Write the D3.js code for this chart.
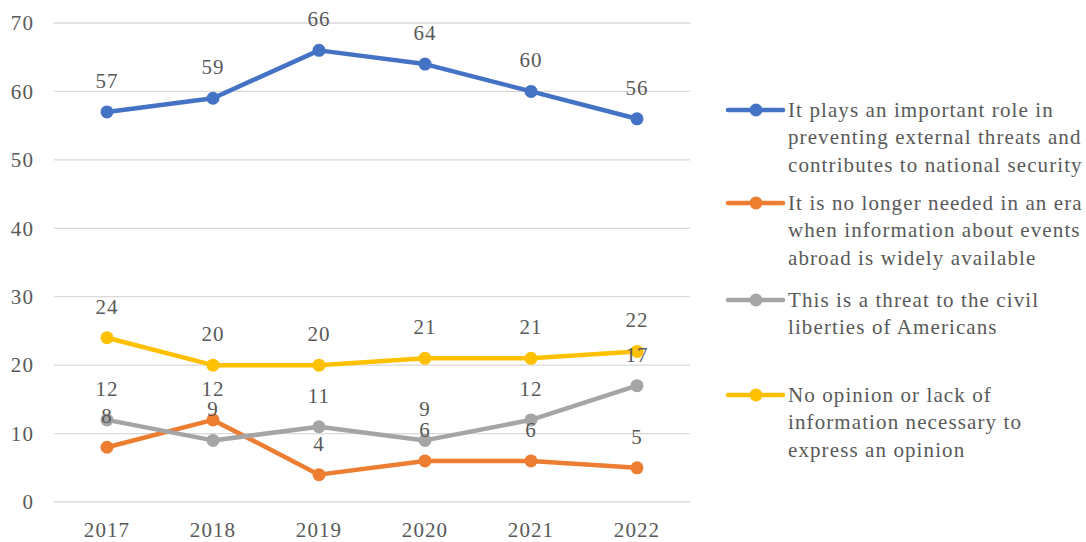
<!DOCTYPE html>
<html lang="en">
<head>
    <meta charset="UTF-8">
    <title>Survey trend</title>
    <script src="https://d3js.org/d3.v7.min.js"></script>
    <style>
        body { margin: 0; background: #fff; }
        svg text { font-family: "Liberation Serif", "Times New Roman", serif; fill: #595959; letter-spacing: 1.1px; }
    </style>
</head>
<body>
    <div id="chart"></div>

    <script>
        // Chart data
        const years = ["2017", "2018", "2019", "2020", "2021", "2022"];
        const seriesNames = [
            ["It plays an important role in", "preventing external threats and", "contributes to national security"],
            ["It is no longer needed in an era", "when information about events", "abroad is widely available"],
            ["This is a threat to the civil", "liberties of Americans"],
            ["No opinion or lack of", "information necessary to", "express an opinion"]
        ];
        const importantRole = [57, 59, 66, 64, 60, 56];
        const noLongerNeeded = [8, 12, 4, 6, 6, 5];
        const civilLiberties = [12, 9, 11, 9, 12, 17];
        const noOpinion = [24, 20, 20, 21, 21, 22];
        const yTicks = [0, 10, 20, 30, 40, 50, 60, 70];
        const colors = ["#4472C4", "#ED7D31", "#A5A5A5", "#FFC000"];

        const allSeries = [importantRole, noLongerNeeded, civilLiberties, noOpinion];

        const width = 1086, height = 542;
        const plot = { left: 54, right: 690, top: 23, bottom: 502 };
        const fontSize = "21px";

        const svg = d3.select("#chart")
            .append("svg")
            .attr("width", width)
            .attr("height", height);

        const xScale = d3.scaleBand()
            .domain(years)
            .range([plot.left, plot.right]);

        const yScale = d3.scaleLinear()
            .domain([0, 70])
            .range([plot.bottom, plot.top]);

        const xPos = d => xScale(d) + xScale.bandwidth() / 2;

        // Gridlines
        svg.append("g")
            .selectAll("line")
            .data(yTicks)
            .enter()
            .append("line")
            .attr("x1", plot.left)
            .attr("x2", plot.right)
            .attr("y1", d => yScale(d))
            .attr("y2", d => yScale(d))
            .attr("stroke", "#D9D9D9")
            .attr("stroke-width", 1.3);

        // Y axis labels
        const yAxis = svg.append("g")
            .attr("transform", "translate(" + (plot.left - 20) + ",0)")
            .call(d3.axisLeft(yScale).tickValues(yTicks).tickSize(0).tickPadding(0));
        yAxis.select(".domain").remove();
        yAxis.selectAll("text")
            .style("font-size", fontSize)
            .style("font-family", "Liberation Serif, serif")
            .attr("fill", "#595959");

        // X axis labels
        const xAxis = svg.append("g")
            .attr("transform", "translate(0," + plot.bottom + ")")
            .call(d3.axisBottom(xScale).tickSize(0).tickPadding(20));
        xAxis.select(".domain").remove();
        xAxis.selectAll("text")
            .style("font-size", fontSize)
            .style("font-family", "Liberation Serif, serif")
            .attr("fill", "#595959");

        const line = d3.line()
            .x((d, i) => xPos(years[i]))
            .y(d => yScale(d));

        // Lines and markers
        allSeries.forEach(function(values, s) {
            const g = svg.append("g");
            g.append("path")
                .datum(values)
                .attr("d", line)
                .attr("fill", "none")
                .attr("stroke", colors[s])
                .attr("stroke-width", 4.5)
                .attr("stroke-linejoin", "round");
            g.selectAll("circle")
                .data(values)
                .enter()
                .append("circle")
                .attr("cx", (d, i) => xPos(years[i]))
                .attr("cy", d => yScale(d))
                .attr("r", 6.5)
                .attr("fill", colors[s]);
        });

        // Data labels (drawn after all lines so they sit on top)
        allSeries.forEach(function(values) {
            svg.append("g")
                .selectAll("text")
                .data(values)
                .enter()
                .append("text")
                .attr("x", (d, i) => xPos(years[i]))
                .attr("y", d => yScale(d) - 24)
                .attr("text-anchor", "middle")
                .style("font-size", fontSize)
                .text(d => d);
        });

        // Legend
        const legendTops = [110, 203, 300, 395];
        seriesNames.forEach(function(lines, s) {
            const g = svg.append("g")
                .attr("transform", "translate(728," + legendTops[s] + ")");
            g.append("line")
                .attr("x1", 0)
                .attr("x2", 55)
                .attr("y1", 0)
                .attr("y2", 0)
                .attr("stroke", colors[s])
                .attr("stroke-width", 4.5)
                .attr("stroke-linecap", "round");
            g.append("circle")
                .attr("cx", 28)
                .attr("cy", 0)
                .attr("r", 6.5)
                .attr("fill", colors[s]);
            g.selectAll("text")
                .data(lines)
                .enter()
                .append("text")
                .attr("x", 60)
                .attr("y", (d, i) => i * 27.3 + 7)
                .style("font-size", fontSize)
                .text(d => d);
        });
    </script>
</body>
</html>
